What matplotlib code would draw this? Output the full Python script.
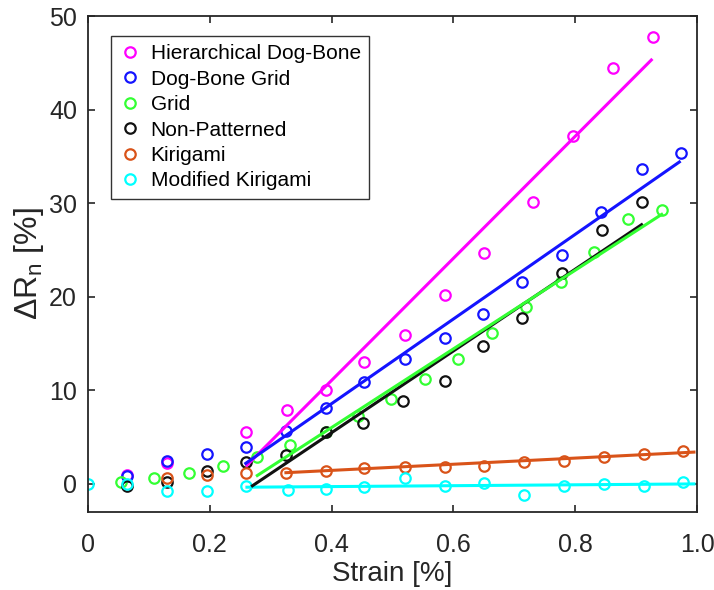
import matplotlib
matplotlib.use("Agg")
import matplotlib.pyplot as plt

plt.rcParams['font.family'] = ['Liberation Sans', 'DejaVu Sans']
plt.rcParams['mathtext.fontset'] = 'custom'
plt.rcParams['mathtext.rm'] = 'Liberation Sans'
plt.rcParams['mathtext.it'] = 'Liberation Sans'

## measured points (strain, dR_n)
hier_x = [0.064, 0.13, 0.26, 0.326, 0.39, 0.454, 0.52, 0.586, 0.65, 0.73, 0.796, 0.862, 0.927]
hier_y = [1.0, 2.2, 5.5, 7.85, 10.0, 13.0, 15.9, 20.2, 24.7, 30.1, 37.2, 44.4, 47.8]

dog_x = [0.064, 0.13, 0.195, 0.26, 0.325, 0.39, 0.454, 0.52, 0.586, 0.649, 0.713, 0.779, 0.843, 0.909, 0.973]
dog_y = [0.8, 2.4, 3.2, 3.9, 5.7, 8.1, 10.9, 13.4, 15.6, 18.2, 21.6, 24.5, 29.1, 33.6, 35.4]

grid_x = [0.055, 0.109, 0.166, 0.222, 0.277, 0.331, 0.39, 0.443, 0.497, 0.553, 0.608, 0.664, 0.72, 0.776, 0.831, 0.886, 0.942]
grid_y = [0.25, 0.6, 1.2, 1.9, 2.9, 4.2, 5.55, 7.25, 9.1, 11.2, 13.4, 16.1, 18.9, 21.6, 24.8, 28.3, 29.3]

nonp_x = [0.064, 0.13, 0.195, 0.26, 0.325, 0.39, 0.452, 0.518, 0.586, 0.649, 0.713, 0.778, 0.844, 0.909]
nonp_y = [-0.2, 0.25, 1.35, 2.3, 3.1, 5.6, 6.5, 8.85, 11.0, 14.7, 17.7, 22.5, 27.1, 30.1]

kiri_x = [0.13, 0.195, 0.26, 0.325, 0.39, 0.454, 0.52, 0.586, 0.651, 0.716, 0.782, 0.848, 0.913, 0.977]
kiri_y = [0.6, 1.0, 1.15, 1.15, 1.4, 1.7, 1.85, 1.8, 1.95, 2.3, 2.5, 2.9, 3.25, 3.55]

mod_x = [0.0, 0.064, 0.13, 0.195, 0.26, 0.328, 0.39, 0.454, 0.52, 0.586, 0.651, 0.716, 0.782, 0.848, 0.913, 0.977]
mod_y = [0.0, 0.0, -0.8, -0.75, -0.2, -0.65, -0.5, -0.3, 0.6, -0.2, 0.1, -1.2, -0.2, 0.0, -0.2, 0.25]

## linear fit end points
hier_fit_x, hier_fit_y = [0.261, 0.925], [2.0, 45.3]
dog_fit_x, dog_fit_y = [0.259, 0.971], [2.2, 34.4]
grid_fit_x, grid_fit_y = [0.278, 0.942], [0.9, 28.8]
nonp_fit_x, nonp_fit_y = [0.27, 0.909], [-0.2, 27.7]
kiri_fit_x, kiri_fit_y = [0.325, 0.995], [1.2, 3.4]
mod_fit_x, mod_fit_y = [0.261, 0.995], [-0.35, 0.0]

names = ['Hierarchical Dog-Bone', 'Dog-Bone Grid', 'Grid', 'Non-Patterned', 'Kirigami', 'Modified Kirigami']
colors = ['#ff00ff', '#1414ff', '#33ff33', '#111111', '#d95319', '#00ffff']

xs = [hier_x, dog_x, grid_x, nonp_x, kiri_x, mod_x]
ys = [hier_y, dog_y, grid_y, nonp_y, kiri_y, mod_y]
fits = [(hier_fit_x, hier_fit_y), (dog_fit_x, dog_fit_y), (grid_fit_x, grid_fit_y),
        (nonp_fit_x, nonp_fit_y), (kiri_fit_x, kiri_fit_y), (mod_fit_x, mod_fit_y)]
line_z = [3, 4, 3.5, 3.2, 3, 3]

fig = plt.figure(figsize=(7.14, 5.9), dpi=100)
ax = fig.add_axes([88/714, 78/590, 609/714, 496/590])

for x, y, c, n in zip(xs, ys, colors, names):
    ax.plot(x, y, 'o', mfc='none', mec=c, ms=7.5, mew=1.6, label=n, zorder=2)

for (fx, fy), c, z in zip(fits, colors, line_z):
    ax.plot(fx, fy, '-', color=c, lw=2.2, zorder=z)

ax.set_xlim(0, 1.0)
ax.set_ylim(-3, 50)
ax.set_xticks([0, 0.2, 0.4, 0.6, 0.8, 1.0])
ax.set_xticklabels(['0', '0.2', '0.4', '0.6', '0.8', '1.0'])
ax.set_yticks([0, 10, 20, 30, 40, 50])
ax.tick_params(direction='in', top=True, right=True, length=5, width=1.2,
               labelsize=18, colors='#262626', pad=8)
ax.tick_params(axis='x', pad=15)
for s in ax.spines.values():
    s.set_color('#262626')
    s.set_linewidth(1.3)

ax.set_xlabel('Strain [%]', fontsize=20, color='#262626', labelpad=3)
ax.set_ylabel(r'$\Delta\mathregular{R_n}$ [%]', fontsize=23, color='#262626', labelpad=2)

leg = ax.legend(loc='upper left', bbox_to_anchor=(0.038, 0.96), borderaxespad=0,
                fontsize=15, frameon=True, fancybox=False, handlelength=1.0,
                handletextpad=0.5, labelspacing=0.31, borderpad=0.4)
leg.get_frame().set_edgecolor('black')
leg.get_frame().set_linewidth(1.0)

plt.savefig('out.png', dpi=100)
